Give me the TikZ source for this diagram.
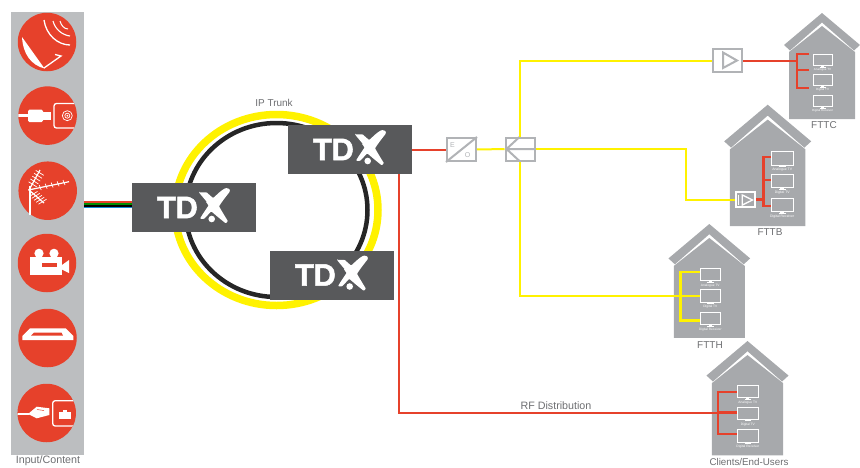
\documentclass[tikz,border=0pt]{standalone}
\usepackage{fontspec}
\setmainfont{Liberation Sans}
\newfontfamily\tdxfont[FakeBold=1.6]{Liberation Sans Bold}
\usetikzlibrary{calc}
\definecolor{tdxred}{HTML}{E6412B}
\definecolor{tdxyellow}{HTML}{FFF200}
\definecolor{tdxdark}{HTML}{58595B}
\definecolor{panelgray}{HTML}{BCBEC0}
\definecolor{housegray}{HTML}{A7A9AC}
\definecolor{linegray}{HTML}{B1B3B6}
\definecolor{labelgray}{HTML}{6D6E71}
\tikzset{
	redline/.style={tdxred, line width=2},
	yellowline/.style={tdxyellow, line width=2},
	iconcircle/.style={circle, fill=tdxred, minimum size=58.5pt, inner sep=0},
	tdxbox/.style={fill=tdxdark, minimum width=124pt, minimum height=49pt, inner sep=0, text=white, font=\tdxfont\fontsize{31}{31}\selectfont},
	graybox/.style={draw=linegray, line width=2, fill=white, minimum width=29pt, minimum height=23pt, inner sep=0},
	caption/.style={text=labelgray, inner sep=0, font=\fontsize{10.7}{12}\selectfont},
	tdxmark/.pic={
		\fill[white, rounded corners=0.8pt] (5,-15.2) -- (12.7,-15.2) .. controls (15,-13) and (17,-11) .. (19.3,-9.5)
			.. controls (23,-13) and (27,-17) .. (31.7,-19.5) -- (35.3,-18.8) -- (36,-16.2)
			.. controls (32,-11) and (28,-6) .. (25,-1.2) .. controls (28,4) and (31,9) .. (34,13.8) -- (31.7,15.8)
			.. controls (27,12) and (22,8) .. (17.3,3.8) .. controls (15,6) and (12.5,9) .. (10,11.5) -- (6,11.2)
			.. controls (9,6) and (12,2) .. (15,-2.8) .. controls (12,-7) and (8,-11) .. (5,-15.2) -- cycle;
		\fill[white] (17.7,11.5) circle (3.3pt);
	},
	house/.pic={
		\fill[housegray] (0,0) -- (38,32) -- (32,37.5) -- (0,9.5) -- (-32,37.5) -- (-38,32) -- cycle;
		\fill[housegray] (0,13) -- (33,39) -- (33,106) -- (-33,106) -- (-33,39) -- cycle;
	},
	tvset/.pic={
		\foreach \y/\t in {41/Analogue TV,61/Digital TV,82/Digital Receiver}{
			\draw[white, line width=0.6] (-9.5,\y) rectangle (9.5,\y+11.5);
			\fill[white] (-1.5,\y+11.5) rectangle (1.5,\y+12.5);
			\fill[white] (-3,\y+12.5) rectangle (3,\y+13);
			\node[white, inner sep=0, transform shape, font=\fontsize{3}{3}\selectfont] (tv\y) at (0,\y+16) {\t};
		}
	},
}
\begin{document}
\begin{tikzpicture}[x=1pt, y=-1pt]
	\useasboundingbox (0,0) rectangle (860,467);
	% input column
	\node[fill=panelgray, minimum width=73pt, minimum height=443pt, inner sep=0] (panel) at (47.5,233.5) {};
	\foreach \n/\x/\y in {dish/47/42,jack/47.6/115.6,aerial/47.7/190.7,camera/47/263,hdmi/47.5/338,rj/46.7/413}{
		\node[iconcircle] (\n) at (\x,\y) {};
	}
	% dish
	\fill[white] (22,37) .. controls (23,54) and (31,65) .. (44.5,68.5) -- cycle;
	\draw[white, line width=1.3] (44,68) -- (61,56) -- (55,54.5);
	\draw[white, line width=1.3] (44,20) .. controls (46,35) and (58,45) .. (70,45);
	\draw[white, line width=1.1] (53,21) .. controls (55,29) and (62,35) .. (70,36);
	\draw[white, line width=1] (60,21) .. controls (61,25) and (64,29) .. (68,29);
	% coax
	\begin{scope}
		\clip (jack) circle (29.2pt);
		\draw[white, line width=2.5] (18,115.6) -- (29,115.6);
		\fill[white, rounded corners=1.5pt] (28,109.5) rectangle (43,122);
		\fill[white] (43,112) rectangle (50.5,119.5);
		\draw[white, line width=1.3, rounded corners=2.5pt] (54,103.5) rectangle (82,128);
		\draw[white, line width=0.7] (67.3,115.7) circle (5pt) circle (2.5pt);
		\fill[white] (67.3,115.7) circle (1pt);
	\end{scope}
	% aerial
	\draw[white, line width=1.3] (30,186) -- (30,215);
	\draw[white, line width=1.2] (28.3,190) -- (69,181.7);
	\draw[white, line width=1.2] (29,190) -- (40,170);
	\draw[white, line width=1.2] (29,190) -- (44,203);
	\foreach \t in {0.3,0.45,0.6,0.75,0.9}{
		\draw[white, line width=0.7] ($(28.3,190)!\t!(68,181.7)+(-1,-2.5)$) -- ++(2,5);
		\draw[white, line width=0.7] ($(29,190)!\t!(41,171)+(-4,-2.5)$) -- ++(8,5);
		\draw[white, line width=0.7] ($(29,190)!\t!(44,203)+(-4,2.5)$) -- ++(8,-5);
	}
	% camera
	\fill[white] (30,257) rectangle (62,275);
	\fill[white] (39,253.3) circle (4.6pt) (54,253.3) circle (4.6pt);
	\fill[white] (62,265) -- (69,260) -- (69,273) -- (62,269.5) -- cycle;
	\fill[tdxred] (41.7,262.7) rectangle (56.7,266.7);
	% hdmi
	\fill[white] (30,328.3) -- (65.7,328.3) -- (73.3,336) -- (73.3,340) -- (22.3,340) -- (22.3,336) -- cycle;
	\fill[tdxred] (34,332.5) -- (61.5,332.5) -- (63,335.5) -- (31,335.5) -- cycle;
	% ethernet
	\begin{scope}
		\clip (rj) circle (29.2pt);
		\draw[white, line width=1.5] (17.3,414) -- (29,414);
		\fill[white] (28,414) -- (36.7,406.7) -- (49.3,408.3) -- (49.3,415) -- (36.7,418.3) -- cycle;
		\draw[tdxred, line width=0.5] (37,409.5) -- (44,410.5);
		\draw[white, line width=1.3, rounded corners=2.5pt] (52.7,400.7) rectangle (80,426);
		\fill[white] (59.3,411.7) rectangle (70.7,419);
		\fill[white] (63,410) rectangle (67,412);
	\end{scope}
	\node[caption] (inputlabel) at (48,461) {Input/Content};
	% ring
	\coordinate (ringc) at (276.5,210);
	\draw[tdxyellow, line width=7.5] (ringc) ellipse (101.5pt and 95.5pt);
	\draw[black!85, line width=4.5] (ringc) ellipse (91pt and 87pt);
	\node[caption, font=\fontsize{10}{12}\selectfont] (trunklabel) at (274,103) {IP Trunk};
	% headends
	\foreach \n/\x/\y in {tdxa/194/207.5,tdxb/350/149.5,tdxc/332/275}{
		\node[tdxbox] (\n) at (\x,\y) {\makebox[124pt][l]{\hspace{25pt}T\kern-0.5pt D\kern8pt\raisebox{5.3pt}{\fontsize{16}{16}\selectfont X}}};
		\pic at (\n) {tdxmark};
	}
	\foreach \c/\y in {tdxred/202,green!55!black/203.8,black/205.9,cyan!70!blue/207.6}{
		\draw[\c, line width=1.7] (panel.east |- 0,\y) -- (tdxa.west |- 0,\y);
	}
	% houses
	\pic at (822,13) {house};
	\pic[scale=1.145] at (767.7,104.7) {house};
	\pic[scale=1.075] at (709.3,224) {house};
	\pic[scale=1.08] at (747.5,341) {house};
	\pic at (822.5,13) {tvset};
	\pic[scale=1.145] at (782.2,104.7) {tvset};
	\pic[scale=1.075] at (710.3,224) {tvset};
	\pic[scale=1.08] at (747.8,341) {tvset};
	\node[caption, font=\fontsize{10}{12}\selectfont] (fttclabel) at (824,125) {FTTC};
	\node[caption, font=\fontsize{10}{12}\selectfont] (fttblabel) at (770,232) {FTTB};
	\node[caption, font=\fontsize{10}{12}\selectfont] (ftthlabel) at (710,345) {FTTH};
	\node[caption, font=\fontsize{9.8}{11}\selectfont] (clientslabel) at (749,462) {Clients/End-Users};
	% optical part
	\node[graybox] (eo) at (461.5,149.5) {};
	\draw[linegray, line width=2] (eo.south west) -- (eo.north east);
	\node[text=linegray, inner sep=0, font=\fontsize{7}{7}\selectfont] (eoe) at (452.5,145) {E};
	\node[text=linegray, inner sep=0, font=\fontsize{7}{7}\selectfont] (eoo) at (467.5,155) {O};
	\node[graybox] (split) at (520,149) {};
	\draw[linegray, line width=2] (split.north) -- ($(split.west)+(2,0)$) -- (split.south) ($(split.west)+(2,0)$) -- (split.east);
	\node[graybox] (ampc) at (727.5,60.5) {};
	\draw[linegray, line width=2] (723,52.5) -- (737,60.5) -- (723,68) -- cycle;
	\node[draw=white, fill=housegray, line width=2, minimum width=19pt, minimum height=15.5pt, inner sep=0] (ampb) at (745.5,199.5) {};
	\draw[white, line width=1.3] (742.3,195) -- (752.5,200) -- (742.3,205) -- cycle;
	\draw[white, line width=1] (738.5,194.5) -- (738.5,204.5);
	% distribution
	\draw[redline] (tdxb) -- (eo);
	\draw[yellowline] (eo) -- (split);
	\draw[yellowline] (split.north) |- (ampc);
	\draw[yellowline] (split.east) -| ($(ampb.west)+(-49,0)$) -- (ampb.west);
	\foreach \h/\s/\tx/\ex/\ya/\yb/\yc in {fttc/redline/797/809/54/70/88,fttb/redline/763.3/771/157/180/206,ftth/yellowline/680.7/700/272/296/320.6,clients/redline/718/737/392/412.5/434}{
		\coordinate (\h tree) at (\tx,\yc);
		\coordinate (\h top) at (\ex,\ya);
		\coordinate (\h mid) at (\ex,\yb);
		\coordinate (\h end) at (\ex,\yc);
		\draw[\s, line width=2.6] (\h top) -| (\h tree) -- (\h end);
		\draw[\s, line width=2.6] (\h mid) -- (\h tree |- \h mid);
	}
	\draw[redline] (ampc) -- (fttctree |- ampc);
	\draw[redline, line width=2.6] (ampb.east) -- (fttbtree |- ampb.east);
	\draw[yellowline] (split.south) |- (ftthmid);
	\coordinate (rfdrop) at (399,174);
	\draw[redline] (rfdrop) |- (clientsmid);
	\node[caption] (rflabel) at (556,405.5) {RF Distribution};
\end{tikzpicture}
\end{document}
